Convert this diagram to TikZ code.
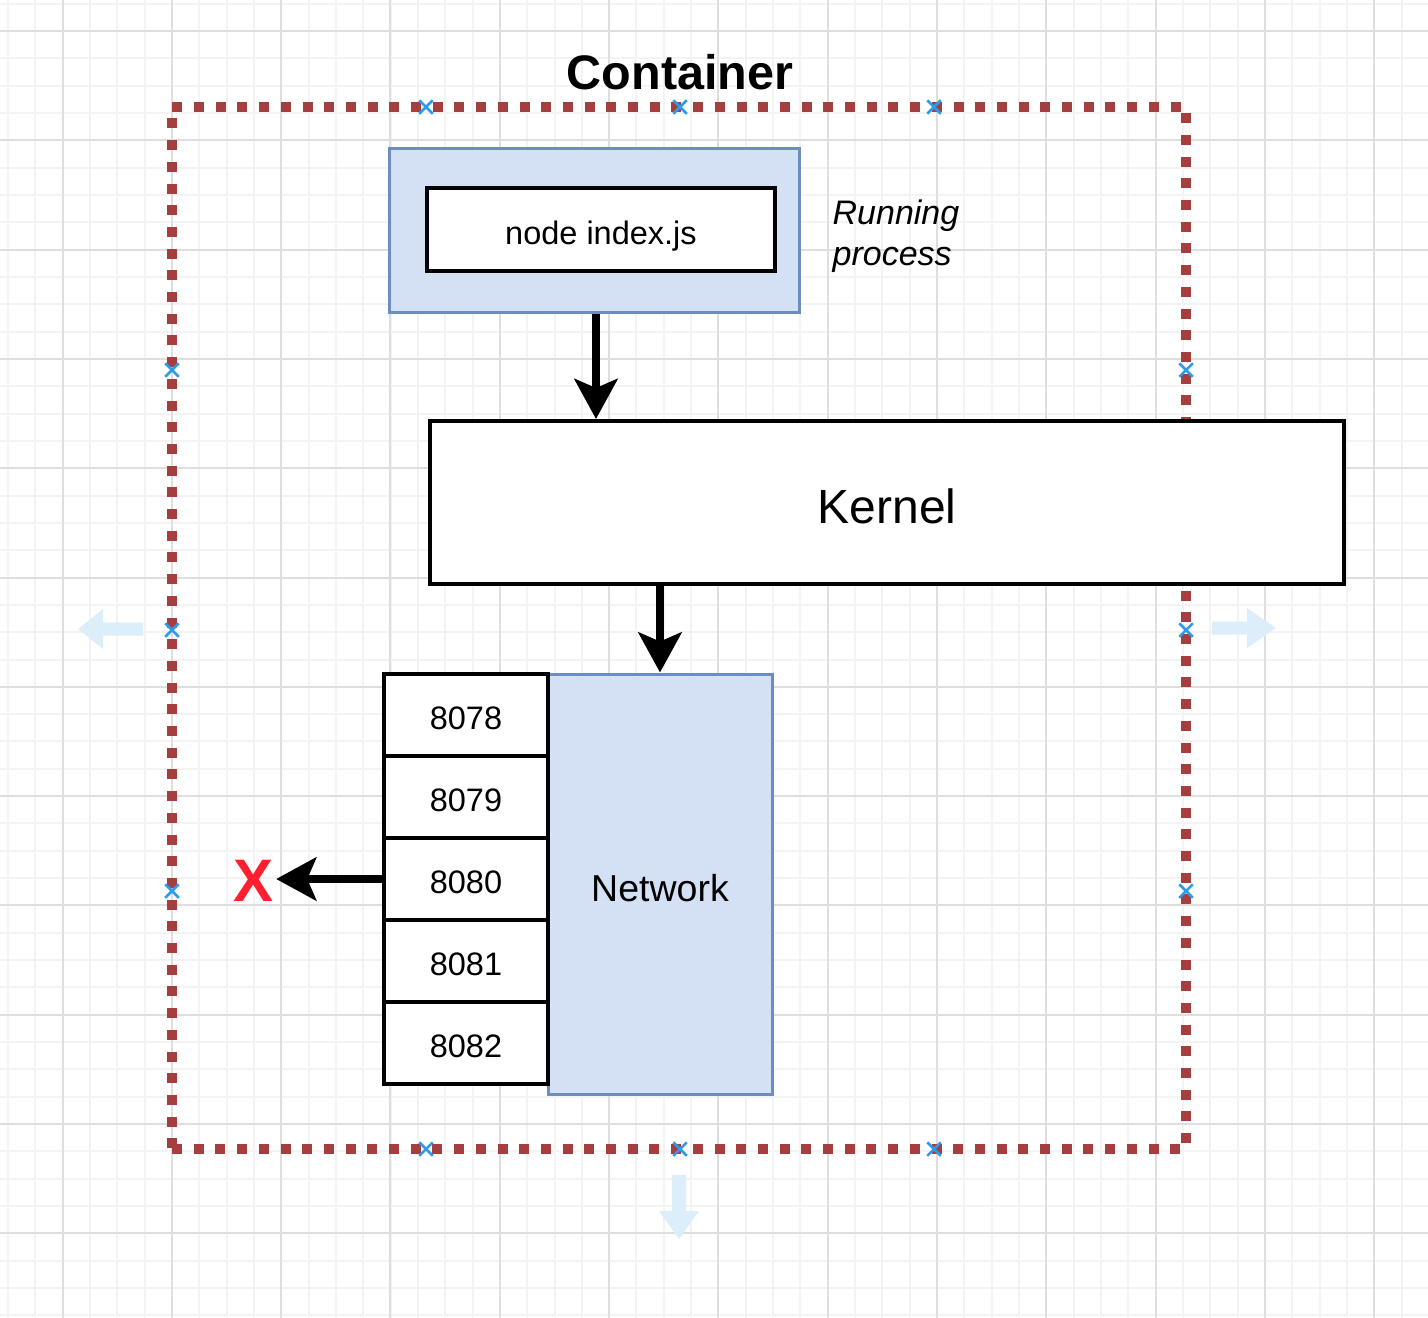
\documentclass[tikz,border=0pt]{standalone}
\usepackage{fontspec}
\setmainfont{Liberation Sans}
\usetikzlibrary{arrows.meta,calc,shapes.misc}
\definecolor{gridminor}{HTML}{F3F3F3}
\definecolor{gridmajor}{HTML}{DEDEDE}
\definecolor{boxfill}{HTML}{D4E1F5}
\definecolor{boxedge}{HTML}{6C8EBF}
\definecolor{dotred}{HTML}{A53E3E}
\definecolor{markblue}{HTML}{2E9BEA}
\definecolor{hintblue}{HTML}{DCEEFA}
\definecolor{xred}{HTML}{FF1F2E}
\begin{document}
\begin{tikzpicture}[x=1pt,y=-1pt,
  minorline/.style={gridminor, line width=2pt},
  majorline/.style={gridmajor, line width=2pt},
  bluebox/.style={draw=boxedge, fill=boxfill, line width=3pt, inner sep=0pt},
  whitebox/.style={draw=black, fill=white, line width=4pt, inner sep=0pt},
  portbox/.style={whitebox, minimum width=164pt, minimum height=82pt,
    text height=29pt, text depth=0pt, font=\fontsize{32.5}{39}\selectfont},
  flow/.style={line width=8pt, -{Stealth[length=40pt,width=43pt,inset=9pt]}},
  handle/.style={cross out, draw=markblue, line width=2.5pt, minimum size=11pt, inner sep=0pt},
  hint/.style={fill=hintblue, draw=none},
]
\useasboundingbox (0,0) rectangle (1428,1318);
\fill[white] (0,0) rectangle (1428,1318);

% background grid
\foreach \i in {0,...,52} {
  \draw[minorline] ({8.0+27.325*\i},0) -- ({8.0+27.325*\i},1318);
}
\foreach \i in {0,...,48} {
  \draw[minorline] (0,{3.7+27.325*\i}) -- (1428,{3.7+27.325*\i});
}
\foreach \i in {0,...,12} {
  \draw[majorline] ({62.5+109.3*\i},0) -- ({62.5+109.3*\i},1318);
}
\foreach \i in {0,...,11} {
  \draw[majorline] (0,{31+109.3*\i}) -- (1428,{31+109.3*\i});
}

% container boundary and title
\node[draw=dotred, line width=9.5pt, dash pattern=on 10pt off 11.7pt,
      minimum width=1014pt, minimum height=1042pt, inner sep=0pt]
  (container) at (679,628) {};
\node[font=\fontsize{48.5}{58}\selectfont\bfseries] (title) at (680,72) {Container};

% resize hints
\fill[hint] (143,622.5) -- (103,622.5) -- (103,609) -- (78,629) -- (103,649)
  -- (103,635.5) -- (143,635.5) -- cycle;
\fill[hint] (1212,621.5) -- (1247,621.5) -- (1247,608) -- (1276,628) -- (1247,648)
  -- (1247,634.5) -- (1212,634.5) -- cycle;
\fill[hint] (672,1175) -- (672,1211) -- (659,1211) -- (679,1239) -- (699,1211)
  -- (686,1211) -- (686,1175) -- cycle;

% connection handles on the container outline
\foreach \p [count=\k] in {(426,107),(680,107),(934,107),(172,370),(172,630),(172,891),
    (1186,370),(1186,630),(1186,891),(426,1149),(680,1149),(934,1149)} {
  \node[handle] (h\k) at \p {};
}

% running process
\node[bluebox, minimum width=410pt, minimum height=164pt] (proc) at (594,230) {};
\node[whitebox, minimum width=348pt, minimum height=83pt,
      text height=29pt, text depth=0pt,
      font=\fontsize{32.5}{39}\selectfont] (cmd) at (601,229.5) {node index.js};
\node[align=left, font=\fontsize{34}{41}\selectfont\itshape, inner sep=0pt]
  (proclabel) at (896,236) {Running\\process};

% kernel
\node[whitebox, minimum width=914pt, minimum height=163pt,
      text height=41pt, text depth=0pt,
      font=\fontsize{48}{58}\selectfont] (kernel) at (887,502.5) {Kernel};

% network with ports
\node[bluebox, minimum width=224pt, minimum height=420pt,
      text height=35pt, text depth=0pt,
      font=\fontsize{37.5}{45}\selectfont] (net) at (660,884) {Network};
\node[portbox] (p8078) at (466,715) {8078};
\node[portbox] (p8079) at (466,797) {8079};
\node[portbox] (p8080) at (466,879) {8080};
\node[portbox] (p8081) at (466,961) {8081};
\node[portbox] (p8082) at (466,1043) {8082};

% blocked exit
\node[text=xred, font=\fontsize{60}{72}\selectfont\bfseries, inner sep=2pt]
  (blocked) at (254,881) {X};

% flow arrows
\draw[flow] ($(proc.south)+(2,0)$) -- ($(proc.south |- kernel.north)+(2,0)$);
\draw[flow] (kernel.south -| net.north) -- (net.north);
\draw[flow] (p8080.west) -- (p8080.west -| blocked.east);
\end{tikzpicture}
\end{document}
